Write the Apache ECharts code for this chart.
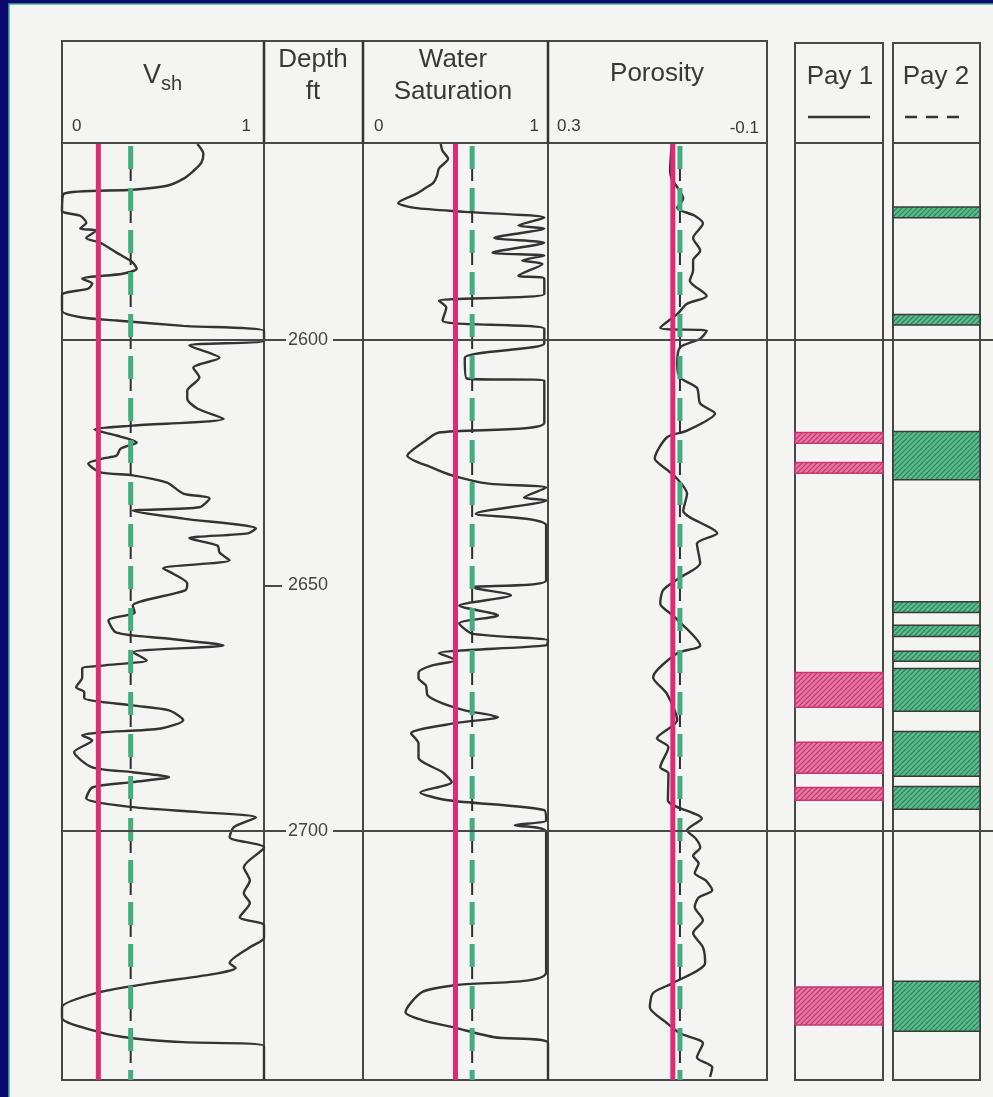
<!DOCTYPE html>
<html>
<head>
<meta charset="utf-8">
<style>
  html, body { margin: 0; padding: 0; background: #0a0a6c; }
  #chart { width: 993px; height: 1097px; }
</style>
<script src="https://cdn.jsdelivr.net/npm/echarts@6/dist/echarts.min.js"></script>
</head>
<body>
<div id="chart"></div>
<script>
// depth range of the log (ft)
const depthRange = [2560, 2750.6];
const depthTicks = [2600, 2650, 2700];
const depthLines = [2600, 2700];

// [depth ft, Vsh]
const vshLog = [
  [2560.2, 0.67], [2562.2, 0.70], [2564.0, 0.69], [2565.7, 0.65], [2567.3, 0.60], [2568.7, 0.52],
  [2569.5, 0.35], [2570.3, 0.01], [2573.8, 0.0], [2574.8, 0.09], [2576.2, 0.12], [2577.4, 0.09],
  [2577.8, 0.17], [2579.3, 0.12], [2580.3, 0.19], [2582.3, 0.27], [2584.3, 0.35], [2585.6, 0.37],
  [2586.6, 0.30], [2587.6, 0.10], [2588.6, 0.15], [2589.6, 0.13], [2590.9, 0.0], [2594.1, 0.0],
  [2595.5, 0.10], [2596.1, 0.27], [2597.2, 0.60], [2598.2, 1.0], [2600.2, 1.0], [2601.2, 0.63],
  [2603.7, 0.78], [2605.7, 0.65], [2607.7, 0.68], [2610.4, 0.62], [2612.0, 0.62], [2614.0, 0.67],
  [2616.1, 0.80], [2617.5, 0.35], [2618.3, 0.16], [2619.5, 0.27], [2620.9, 0.37], [2622.2, 0.29],
  [2623.6, 0.27], [2624.2, 0.20], [2625.2, 0.13], [2627.0, 0.19], [2627.6, 0.35], [2629.1, 0.52],
  [2631.3, 0.60], [2632.3, 0.73], [2634.1, 0.68], [2634.8, 0.35], [2636.4, 0.60], [2638.4, 0.96],
  [2639.4, 0.92], [2640.4, 0.63], [2641.9, 0.77], [2643.3, 0.78], [2644.9, 0.83], [2646.5, 0.50],
  [2647.6, 0.55], [2649.6, 0.62], [2651.0, 0.61], [2654.1, 0.35], [2655.5, 0.36], [2657.1, 0.23],
  [2659.6, 0.27], [2660.8, 0.52], [2662.2, 0.80], [2663.6, 0.35], [2665.2, 0.42], [2666.3, 0.20],
  [2666.9, 0.10], [2668.7, 0.10], [2670.7, 0.07], [2671.7, 0.11], [2672.9, 0.11], [2674.4, 0.35],
  [2675.4, 0.53], [2677.4, 0.60], [2679.1, 0.49], [2679.9, 0.19], [2680.5, 0.10], [2681.5, 0.15],
  [2683.9, 0.06], [2687.0, 0.15], [2688.0, 0.35], [2689.0, 0.53], [2690.0, 0.35], [2691.1, 0.15],
  [2693.3, 0.12], [2695.1, 0.35], [2696.1, 0.68], [2697.2, 0.96], [2699.2, 0.85], [2701.2, 0.83],
  [2703.3, 1.0], [2707.3, 0.90], [2710.0, 0.93], [2712.6, 0.90], [2714.6, 0.93], [2717.5, 0.88],
  [2719.1, 1.0], [2721.7, 1.0], [2723.6, 0.93], [2726.8, 0.83], [2727.8, 0.86], [2728.9, 0.77],
  [2730.9, 0.44], [2732.7, 0.19], [2735.8, 0.0], [2738.0, 0.0], [2740.9, 0.19], [2742.1, 0.35],
  [2742.9, 0.60], [2743.7, 1.0], [2750.6, 1.0]
];

// [depth ft, Sw]
const swLog = [
  [2560.2, 0.42], [2561.6, 0.43], [2563.2, 0.46], [2565.2, 0.41], [2566.7, 0.40], [2568.1, 0.38],
  [2569.1, 0.34], [2570.3, 0.29], [2572.2, 0.19], [2573.2, 0.28], [2574.0, 0.55], [2575.2, 0.98],
  [2576.8, 0.84], [2577.4, 0.98], [2579.3, 0.71], [2580.3, 0.98], [2582.3, 0.70], [2582.9, 0.98],
  [2583.9, 0.86], [2584.6, 0.97], [2587.0, 0.84], [2587.6, 0.98], [2590.7, 0.98], [2592.1, 0.41],
  [2593.5, 0.45], [2596.1, 0.43], [2596.7, 0.50], [2597.8, 0.98], [2600.8, 0.98], [2603.7, 0.55],
  [2607.9, 0.56], [2608.3, 0.98], [2616.9, 0.98], [2618.9, 0.41], [2620.5, 0.34], [2623.6, 0.24],
  [2626.0, 0.37], [2627.6, 0.48], [2629.3, 0.68], [2630.1, 0.99], [2632.1, 0.87], [2632.7, 0.99],
  [2635.4, 0.61], [2637.8, 0.99], [2649.0, 0.99], [2650.4, 0.59], [2652.0, 0.80], [2654.1, 0.52],
  [2656.1, 0.73], [2657.7, 0.52], [2659.8, 0.59], [2661.2, 1.0], [2662.2, 0.99], [2663.8, 0.41],
  [2665.2, 0.50], [2666.3, 0.37], [2667.7, 0.30], [2668.9, 0.30], [2670.3, 0.34], [2672.4, 0.35],
  [2674.0, 0.43], [2675.4, 0.55], [2676.8, 0.73], [2678.0, 0.50], [2680.1, 0.26], [2682.1, 0.30],
  [2685.0, 0.30], [2688.0, 0.43], [2690.0, 0.48], [2692.1, 0.31], [2693.7, 0.46], [2695.7, 0.98],
  [2697.8, 0.99], [2698.8, 0.82], [2700.2, 0.99], [2728.7, 0.99], [2731.3, 0.50], [2732.7, 0.32],
  [2736.8, 0.23], [2738.4, 0.32], [2740.0, 0.50], [2741.9, 0.71], [2743.1, 1.0], [2750.6, 1.0]
];

// [depth ft, porosity]
const phiLog = [
  [2560.2, 0.074], [2565.7, 0.077], [2567.3, 0.074], [2571.3, 0.053], [2573.2, 0.064], [2574.8, 0.032],
  [2576.4, 0.017], [2579.3, 0.035], [2581.9, 0.022], [2583.9, 0.035], [2586.0, 0.035], [2588.0, 0.041],
  [2591.1, 0.010], [2592.7, 0.046], [2594.7, 0.063], [2597.6, 0.095], [2598.2, 0.010], [2599.8, 0.022],
  [2601.6, 0.059], [2604.9, 0.064], [2607.7, 0.059], [2609.8, 0.028], [2613.0, 0.022], [2615.0, -0.005],
  [2618.5, 0.046], [2619.9, 0.083], [2624.2, 0.105], [2626.6, 0.081], [2628.3, 0.064], [2631.3, 0.046],
  [2634.8, 0.053], [2639.4, -0.009], [2641.5, 0.028], [2645.5, 0.022], [2648.4, 0.059], [2651.0, 0.090],
  [2653.7, 0.095], [2656.1, 0.072], [2662.2, 0.022], [2663.8, 0.064], [2668.7, 0.108], [2672.0, 0.083],
  [2677.4, 0.064], [2681.1, 0.101], [2682.9, 0.080], [2687.0, 0.095], [2688.2, 0.080], [2693.7, 0.081],
  [2697.4, 0.019], [2699.8, 0.046], [2701.5, 0.030], [2703.3, 0.022], [2705.0, 0.035], [2706.5, 0.025],
  [2708.5, 0.032], [2710.0, 0.012], [2712.0, 0.0], [2713.5, 0.025], [2715.4, 0.032], [2718.1, 0.017],
  [2720.7, 0.035], [2723.6, 0.017], [2726.8, 0.013], [2730.9, 0.072], [2732.9, 0.108], [2735.8, 0.114],
  [2739.0, 0.083], [2741.1, 0.059], [2743.1, 0.017], [2746.0, 0.028], [2748.0, 0.0], [2750.0, 0.004]
];

// cutoffs: red = pay 1, green dashed = pay 2
const vshCut = [0.18, 0.34];
const swCut = [0.50, 0.59];
const phiCut = [0.072, 0.059];

// pay intervals [top ft, base ft]
const pay1 = [
  [2618.9, 2621.1], [2625.0, 2627.2], [2667.7, 2674.8],
  [2681.9, 2688.2], [2691.1, 2693.7], [2731.7, 2739.4]
];
const pay2 = [
  [2573.0, 2575.2], [2594.9, 2597.0], [2618.7, 2628.5], [2653.3, 2655.5],
  [2658.1, 2660.4], [2663.4, 2665.4], [2666.9, 2675.6], [2679.7, 2688.8],
  [2690.9, 2695.5], [2730.5, 2740.7]
];

const INK = '#383838';
const RED = '#de2c74';
const GREEN = '#43ad7c';
const PAPER = '#f4f4f3';
const FONT = 'Liberation Sans, Arial, sans-serif';

const tracks = [
  { left: 62, width: 202, min: 0, max: 1 },      // Vsh
  { left: 264, width: 99, min: 0, max: 1 },      // depth
  { left: 363, width: 185, min: 0, max: 1 },     // Sw
  { left: 548, width: 219, min: -0.1, max: 0.3, inverse: true }, // porosity
  { left: 795, width: 88, min: 0, max: 1 },      // pay 1
  { left: 893, width: 87, min: 0, max: 1 },      // pay 2
  { left: 62, width: 931, min: 0, max: 1, overlay: true } // depth lines
];

function hatch(bg, line) {
  const c = document.createElement('canvas');
  c.width = 5; c.height = 5;
  const g = c.getContext('2d');
  g.fillStyle = bg;
  g.fillRect(0, 0, 5, 5);
  g.strokeStyle = line;
  g.lineWidth = 1.2;
  g.beginPath();
  g.moveTo(-1, 6); g.lineTo(6, -1);
  g.moveTo(-1, 1); g.lineTo(1, -1);
  g.moveTo(4, 6); g.lineTo(6, 4);
  g.stroke();
  return { image: c, repeat: 'repeat' };
}

const chart = echarts.init(document.getElementById('chart'));

const grids = tracks.map((t) => ({
  left: t.left, top: 143, width: t.width, height: 937,
  show: !t.overlay, borderColor: '#484848', borderWidth: 2
}));

const xAxes = tracks.map((t, i) => ({
  gridIndex: i, type: 'value', min: t.min, max: t.max, inverse: !!t.inverse, show: false
}));

const yAxes = tracks.map((t, i) => {
  const ax = {
    gridIndex: i, type: 'value', min: depthRange[0], max: depthRange[1], inverse: true, show: false
  };
  if (i === 1) {
    Object.assign(ax, {
      show: true, position: 'left', z: 10,
      axisLine: { show: false }, splitLine: { show: false },
      axisTick: { show: true, inside: true, length: 18, customValues: depthTicks,
        lineStyle: { color: '#484848', width: 2 } },
      axisLabel: { show: true, inside: true, margin: 22, customValues: depthTicks,
        formatter: (v) => String(v),
        color: '#444', fontSize: 18, fontFamily: FONT,
        backgroundColor: PAPER, padding: [2, 5, 2, 2] }
    });
  }
  return ax;
});

function logSeries(idx, log) {
  return {
    type: 'line', xAxisIndex: idx, yAxisIndex: idx, z: 2,
    data: log.map((p) => [p[1], p[0]]),
    showSymbol: false, smooth: 0.25, clip: true, silent: true,
    lineStyle: { color: '#333', width: 2.4 }
  };
}

function cutSeries(idx, value, color, width, type, z, offset) {
  return {
    type: 'line', xAxisIndex: idx, yAxisIndex: idx, z: z, silent: true,
    data: [[value, depthRange[0]], [value, depthRange[1]]],
    showSymbol: false,
    lineStyle: { color: color, width: width, type: type, dashOffset: offset || 0 }
  };
}

function cutoffs(idx, cuts) {
  return [
    cutSeries(idx, cuts[1], '#2e2e2e', 2, [12, 30], 3, -26),
    cutSeries(idx, cuts[1], GREEN, 5, [23, 19], 4, -3),
    cutSeries(idx, cuts[0], RED, 5, 'solid', 5)
  ];
}

function paySeries(idx, data, pattern, stroke) {
  return {
    type: 'custom', xAxisIndex: idx, yAxisIndex: idx, z: 3, silent: true,
    data: data,
    encode: { y: [0, 1] },
    renderItem: function (params, api) {
      const a = api.coord([0, api.value(0)]);
      const b = api.coord([1, api.value(1)]);
      return {
        type: 'rect',
        shape: { x: a[0], y: a[1], width: b[0] - a[0], height: b[1] - a[1] },
        style: { fill: pattern, stroke: stroke, lineWidth: 1.5 }
      };
    }
  };
}

const series = [
  {
    type: 'line', xAxisIndex: 6, yAxisIndex: 6, data: [], silent: true, z: 1,
    markLine: {
      silent: true, symbol: 'none', label: { show: false },
      lineStyle: { color: '#484848', width: 2, type: 'solid' },
      data: depthLines.map((d) => ({ yAxis: d }))
    }
  },
  logSeries(0, vshLog),
  logSeries(2, swLog),
  logSeries(3, phiLog),
  ...cutoffs(0, vshCut),
  ...cutoffs(2, swCut),
  ...cutoffs(3, phiCut),
  paySeries(4, pay1, hatch('#e27aa3', '#c8306c'), '#cc3470'),
  paySeries(5, pay2, hatch('#5dba8d', '#2a8358'), '#3a3a3a')
];

function txt(x, y, s, size, align) {
  return {
    type: 'text', x: x, y: y, silent: true, z: 20,
    style: { text: s, fill: INK, fontSize: size, fontFamily: FONT,
      align: align || 'center', verticalAlign: 'middle' }
  };
}
function box(x, y, w, h) {
  return {
    type: 'rect', silent: true, z: 20,
    shape: { x: x, y: y, width: w, height: h },
    style: { fill: 'none', stroke: '#484848', lineWidth: 2 }
  };
}
function seg(x1, y1, x2, y2, dash) {
  return {
    type: 'line', silent: true, z: 20,
    shape: { x1: x1, y1: y1, x2: x2, y2: y2 },
    style: { stroke: '#333', lineWidth: 2.5, lineDash: dash || null }
  };
}

const graphic = [
  { type: 'rect', z: -10, silent: true, shape: { x: 9, y: 4, width: 1000, height: 1100 },
    style: { fill: PAPER, stroke: '#3fae95', lineWidth: 1.5 } },
  box(62, 41, 705, 102),
  seg(264, 41, 264, 143), seg(363, 41, 363, 143), seg(548, 41, 548, 143),
  box(795, 43, 88, 100),
  box(893, 43, 87, 100),
  { type: 'text', x: 161, y: 76, silent: true, z: 20,
    style: { text: 'V', fill: INK, fontSize: 27, fontFamily: FONT, align: 'right', verticalAlign: 'middle' } },
  { type: 'text', x: 161, y: 84, silent: true, z: 20,
    style: { text: 'sh', fill: INK, fontSize: 20, fontFamily: FONT, align: 'left', verticalAlign: 'middle' } },
  txt(313, 60, 'Depth', 26), txt(313, 92, 'ft', 26),
  txt(453, 60, 'Water', 26), txt(453, 92, 'Saturation', 26),
  txt(657, 74, 'Porosity', 26),
  txt(840, 77, 'Pay 1', 26), txt(936, 77, 'Pay 2', 26),
  txt(72, 126, '0', 17, 'left'), txt(251, 126, '1', 17, 'right'),
  txt(374, 126, '0', 17, 'left'), txt(539, 126, '1', 17, 'right'),
  txt(557, 126, '0.3', 17, 'left'), txt(759, 128, '-0.1', 17, 'right'),
  seg(808, 117, 870, 117),
  seg(905, 117, 968, 117, [12, 9])
];

chart.setOption({
  backgroundColor: '#0a0a6c',
  animation: false,
  grid: grids,
  xAxis: xAxes,
  yAxis: yAxes,
  series: series,
  graphic: graphic
});
</script>
</body>
</html>
